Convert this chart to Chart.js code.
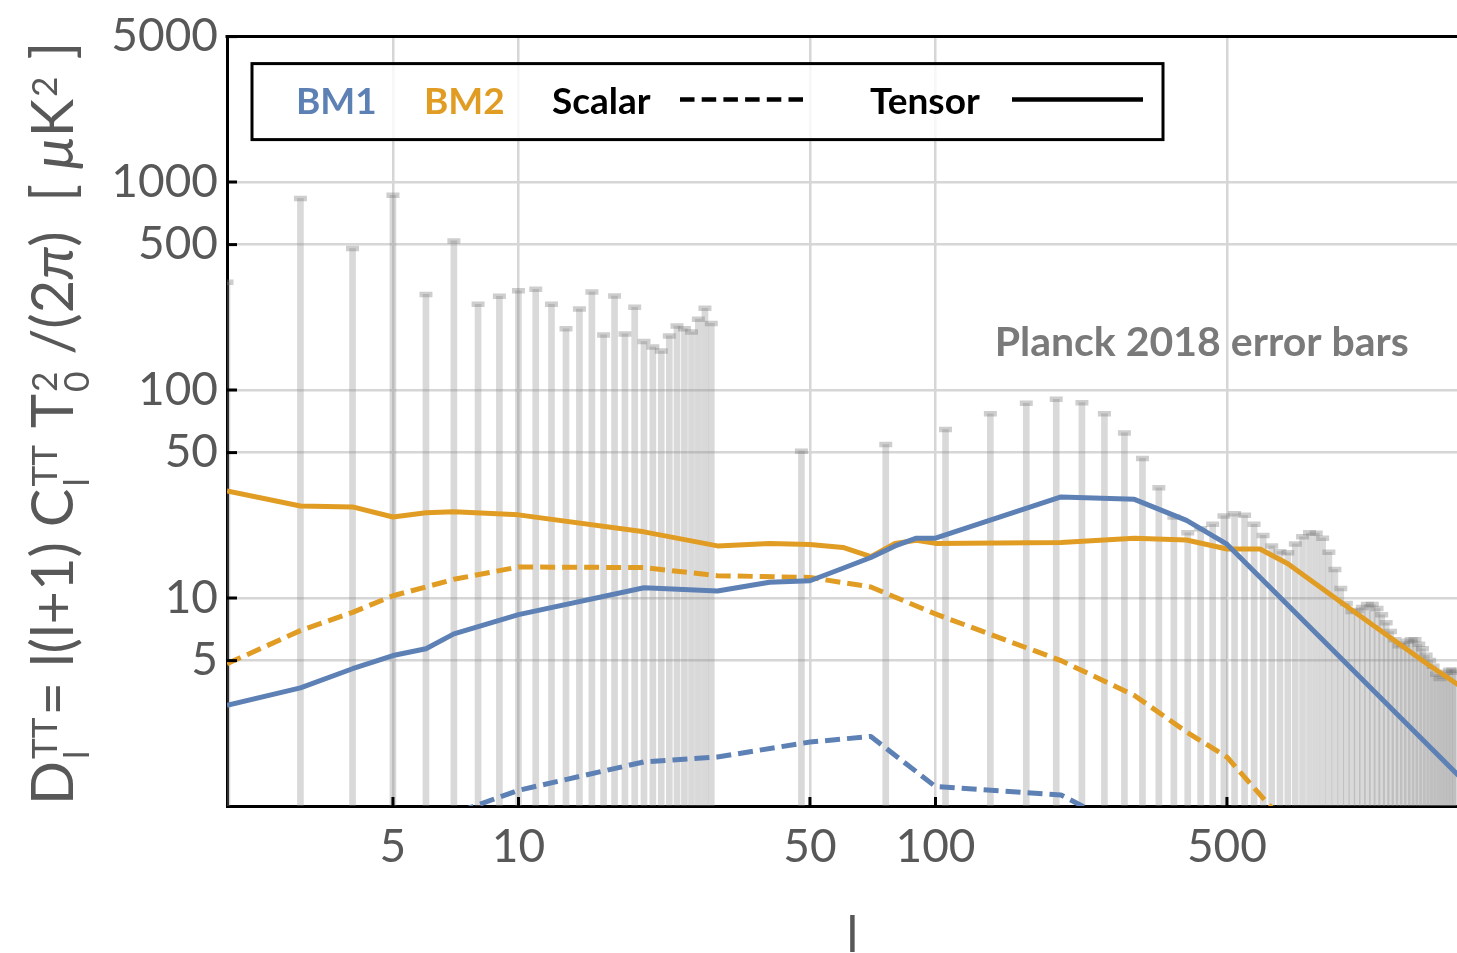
<!DOCTYPE html>
<html>
<head>
<meta charset="utf-8">
<script src="https://cdn.jsdelivr.net/npm/chart.js@4.4.1/dist/chart.umd.min.js"></script>
<style>
  html, body { margin: 0; padding: 0; background: #fff; overflow: hidden; }
  #wrap { position: relative; width: 1478px; height: 953px; }
</style>
</head>
<body>
<div id="wrap"><canvas id="c" width="1478" height="953"></canvas></div>
<script>
// Planck 2018 TT error bars: unbinned low multipoles (l = 2..29)
const lowEll = [2, 3, 4, 5, 6, 7, 8, 9, 10, 11, 12, 13, 14, 15, 16, 17, 18, 19, 20, 21, 22, 23, 24, 25, 26, 27, 28, 29];
const lowErr = [330, 832, 479, 863, 288, 521, 258, 282, 300, 305, 258, 197, 245, 296, 184, 283, 186, 250, 171, 161, 154, 182, 203, 197, 190, 219, 247, 209];

// binned high multipoles
const binEll = [47.7, 76, 105.7, 135.4, 165.1, 194.8, 224.5, 254.2, 283.9, 313.6, 343.3, 373, 402.7, 432.4, 462.1, 491.8,
  521.5, 551.2, 580.9, 610.6, 640.3, 670, 699.7, 729.4, 759.1, 788.8, 818.5, 848.2, 877.9, 907.6, 937.3, 967, 996.7,
  1026.4, 1056.1, 1085.8, 1115.5, 1145.2, 1174.9, 1204.6, 1234.3, 1264, 1293.7, 1323.4, 1353.1, 1382.8, 1412.5, 1442.2,
  1471.9, 1501.6, 1531.3, 1561, 1590.7, 1620.4, 1650.1, 1679.8, 1709.5, 1739.2, 1768.9];
const binErr = [50.8, 54.7, 64.6, 76.8, 86.3, 90.2, 86.9, 76.8, 62.2, 46.9, 33.9, 24.5, 20.6, 21.5, 22.6, 24.8,
  25.4, 25.0, 22.6, 20.0, 17.8, 16.7, 16.5, 18.2, 19.7, 20.6, 20.5, 19.4, 16.6, 13.7, 11.1, 9.4, 8.6,
  8.7, 9.0, 9.3, 9.3, 8.9, 8.3, 7.6, 6.9, 6.3, 5.9, 6.0, 6.2, 6.3, 6.3, 6.0,
  5.7, 5.3, 5.0, 4.7, 4.3, 4.1, 4.2, 4.4, 4.5, 4.5, 4.4];

// BM1 spectra
const bm1TensorEll = [2, 3, 4, 5, 6, 7, 10, 20, 30, 40, 50, 60, 70, 80, 90, 100, 200, 300, 400, 500, 2000];
const bm1Tensor    = [3.05, 3.70, 4.57, 5.29, 5.70, 6.72, 8.32, 11.2, 10.8, 11.9, 12.1, 13.9, 15.65, 17.8, 19.4, 19.4, 30.6, 29.8, 23.6, 18.15, 1.13];
const bm1ScalarEll = [2, 5, 7, 10, 20, 30, 50, 70, 100, 200, 300];
const bm1Scalar    = [0.45, 0.72, 0.92, 1.19, 1.63, 1.72, 2.03, 2.16, 1.24, 1.13, 0.74];

// BM2 spectra
const bm2TensorEll = [2, 3, 4, 5, 6, 7, 10, 20, 30, 40, 50, 60, 70, 80, 90, 100, 200, 300, 400, 500, 600, 700, 1000, 1500, 2000];
const bm2Tensor    = [32.7, 27.7, 27.4, 24.5, 25.7, 26.0, 25.1, 20.8, 17.8, 18.3, 18.1, 17.5, 15.8, 18.3, 18.95, 18.3, 18.5, 19.4, 19.0, 17.2, 17.2, 14.6, 8.7, 4.87, 3.3];
const bm2ScalarEll = [2, 3, 4, 5, 6, 7, 10, 20, 30, 50, 70, 100, 200, 300, 400, 500, 700];
const bm2Scalar    = [4.83, 6.97, 8.53, 10.25, 11.3, 12.3, 14.1, 14.0, 12.8, 12.55, 11.3, 8.38, 5.0, 3.4, 2.27, 1.72, 0.8];

// axis ticks
const xTicks = [5, 10, 50, 100, 500];
const yTicks = [5, 10, 50, 100, 500, 1000, 5000];

const BLUE = '#5E81B5';
const ORANGE = '#E19C24';
const GRID = '#d6d6d6';
const TEXT_GRAY = '#585858';
const FONT = 'Lato, "Open Sans", sans-serif';
const BAR_FLOOR = 0.1;   // error bars run down past the bottom of the axis

const pts = (xs, ys) => xs.map((x, i) => ({ x: x, y: ys[i] }));
const errEll = lowEll.concat(binEll);
const errTop = lowErr.concat(binErr);

function lineSet(label, xs, ys, color, dashed) {
  return {
    type: 'line', label: label, data: pts(xs, ys),
    borderColor: color, borderWidth: 5, borderDash: dashed ? [15, 7] : [],
    borderJoinStyle: 'round', pointRadius: 0, tension: 0, order: 0
  };
}

// title of the vertical axis, with sub- and superscripts, fitted to the plot height
function drawYTitle(chart) {
  const ctx = chart.ctx;
  const parts = [
    { t: 'D' }, { sub: 'l', sup: 'TT' }, { t: '= l(l+1) C' }, { sub: 'l', sup: 'TT' },
    { t: ' T' }, { sub: '0', sup: '2' }, { t: ' /(2' }, { t: 'π', it: true }, { t: ')  [ ' },
    { t: 'μ', it: true }, { t: 'K' }, { sup: '2' }, { t: ' ]' }
  ];
  const span = chart.chartArea.bottom - chart.chartArea.top - 5;
  const layout = (M, S, draw) => {
    const mainFont = M + 'px ' + FONT, itFont = 'italic ' + M + 'px ' + FONT, scrFont = S + 'px ' + FONT;
    const off = M * 0.28;
    let pos = 0;
    parts.forEach(p => {
      if (p.t !== undefined) {
        ctx.font = p.it ? itFont : mainFont;
        if (draw) ctx.fillText(p.t, pos, 0);
        pos += ctx.measureText(p.t).width;
      } else {
        ctx.font = scrFont;
        let w = 0;
        if (p.sub) { if (draw) ctx.fillText(p.sub, pos + 2, off); w = Math.max(w, ctx.measureText(p.sub).width); }
        if (p.sup) { if (draw) ctx.fillText(p.sup, pos + 2, -off); w = Math.max(w, ctx.measureText(p.sup).width); }
        pos += w + 4;
      }
    });
    return pos;
  };
  ctx.save();
  const k = span / layout(54, 33, false);
  ctx.translate(73, chart.chartArea.bottom - 1);
  ctx.rotate(-Math.PI / 2);
  ctx.fillStyle = TEXT_GRAY;
  ctx.textBaseline = 'alphabetic';
  ctx.textAlign = 'left';
  layout(54 * k, 33 * k, true);
  ctx.restore();
}

const decorations = {
  id: 'decorations',
  afterDraw(chart) {
    const ctx = chart.ctx;
    const a = chart.chartArea;
    const xs = chart.scales.x, ys = chart.scales.y;
    ctx.save();
    // top frame
    ctx.strokeStyle = '#000';
    ctx.lineWidth = 3;
    ctx.beginPath();
    ctx.moveTo(a.left - 1.5, a.top);
    ctx.lineTo(a.right, a.top);
    ctx.stroke();
    // inward tick marks
    yTicks.forEach(v => {
      const y = ys.getPixelForValue(v);
      ctx.beginPath(); ctx.moveTo(a.left, y); ctx.lineTo(a.left + 10, y); ctx.stroke();
    });
    xTicks.forEach(v => {
      const x = xs.getPixelForValue(v);
      ctx.beginPath(); ctx.moveTo(x, a.bottom); ctx.lineTo(x, a.bottom - 9); ctx.stroke();
    });

    // legend box
    const bx = a.left + 25, by = a.top + 27, bw = 911, bh = 76;
    ctx.fillStyle = 'rgba(255,255,255,0.8)';
    ctx.fillRect(bx, by, bw, bh);
    ctx.strokeStyle = '#000';
    ctx.lineWidth = 3;
    ctx.strokeRect(bx, by, bw, bh);
    const base = by + 50, mid = by + 36;
    ctx.font = 'bold 37px ' + FONT;
    ctx.textBaseline = 'alphabetic';
    ctx.textAlign = 'left';
    ctx.fillStyle = BLUE;   ctx.fillText('BM1', bx + 44, base);
    ctx.fillStyle = ORANGE; ctx.fillText('BM2', bx + 172, base);
    ctx.fillStyle = '#000'; ctx.fillText('Scalar', bx + 300, base);
    ctx.fillText('Tensor', bx + 618, base);
    ctx.lineWidth = 4.5;
    ctx.setLineDash([14.5, 7.2]);
    ctx.beginPath(); ctx.moveTo(bx + 428, mid); ctx.lineTo(bx + 551, mid); ctx.stroke();
    ctx.setLineDash([]);
    ctx.beginPath(); ctx.moveTo(bx + 760, mid); ctx.lineTo(bx + 891, mid); ctx.stroke();

    // annotation
    ctx.font = 'bold 41px ' + FONT;
    ctx.fillStyle = '#7a7a7a';
    ctx.textAlign = 'center';
    ctx.fillText('Planck 2018 error bars', xs.getPixelForValue(435), ys.getPixelForValue(146));
    ctx.restore();

    drawYTitle(chart);
  }
};

new Chart(document.getElementById('c'), {
  type: 'line',
  data: {
    datasets: [
      lineSet('BM1 tensor', bm1TensorEll, bm1Tensor, BLUE, false),
      lineSet('BM2 tensor', bm2TensorEll, bm2Tensor, ORANGE, false),
      lineSet('BM1 scalar', bm1ScalarEll, bm1Scalar, BLUE, true),
      lineSet('BM2 scalar', bm2ScalarEll, bm2Scalar, ORANGE, true),
      {
        type: 'line', label: 'error caps', data: pts(errEll, errTop), showLine: false,
        pointStyle: 'line', pointRadius: 6.5, pointBorderWidth: 5.5,
        pointBorderColor: 'rgba(120,120,120,0.36)', pointBackgroundColor: 'rgba(0,0,0,0)', order: 1
      },
      {
        type: 'bar', label: 'error bars',
        data: errEll.map((x, i) => ({ x: x, y: [BAR_FLOOR, errTop[i]] })),
        backgroundColor: 'rgba(140,140,140,0.33)', borderWidth: 0,
        barThickness: 6, grouped: false, order: 2
      }
    ]
  },
  options: {
    responsive: false,
    animation: false,
    events: [],
    layout: { autoPadding: false, padding: { top: 35, left: 0, right: 0, bottom: 0 } },
    plugins: { legend: { display: false }, tooltip: { enabled: false } },
    scales: {
      x: {
        type: 'logarithmic', min: 2, max: 2000, offset: false,
        grid: { color: GRID, lineWidth: 2.5, drawTicks: false, offset: false },
        border: { display: true, color: '#000', width: 3 },
        ticks: {
          font: { family: FONT, size: 46 }, color: TEXT_GRAY, padding: 14,
          autoSkip: false, maxRotation: 0, callback: v => String(v)
        },
        afterBuildTicks: s => { s.ticks = xTicks.map(v => ({ value: v })); },
        afterFit: s => { s.height = 147; },
        title: {
          display: true, text: 'l', color: TEXT_GRAY,
          font: { family: FONT, size: 50, lineHeight: 1 }, padding: { top: 0, bottom: -8 }
        }
      },
      y: {
        type: 'logarithmic', min: 1, max: 5000,
        grid: { color: GRID, lineWidth: 2.5, drawTicks: false },
        border: { display: true, color: '#000', width: 3 },
        ticks: {
          font: { family: FONT, size: 46 }, color: TEXT_GRAY, padding: 9,
          autoSkip: false, callback: v => String(v)
        },
        afterBuildTicks: s => { s.ticks = yTicks.map(v => ({ value: v })); },
        afterFit: s => { s.width = 227; }
      }
    }
  },
  plugins: [decorations]
});
</script>
</body>
</html>
